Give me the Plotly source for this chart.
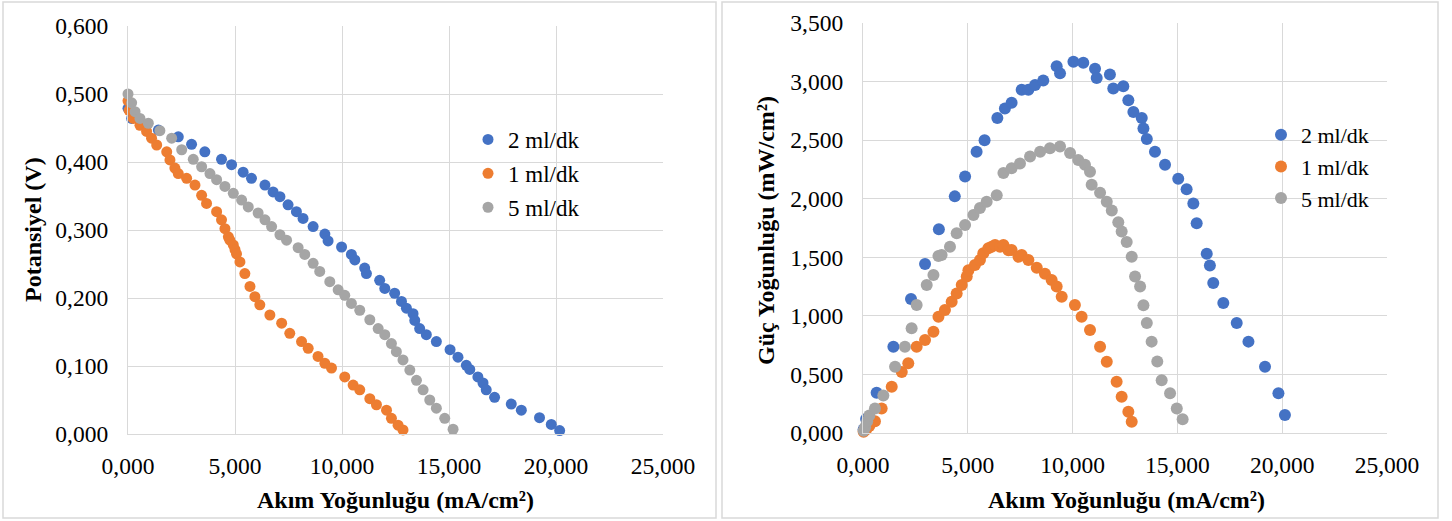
import plotly.graph_objects as go

# ---------------- data ----------------
series_names = ["2 ml/dk", "1 ml/dk", "5 ml/dk"]
colors = ["#4472C4", "#ED7D31", "#A5A5A5"]

# Left panel: current density (mA/cm2) vs potential (V)
left_i_2 = [0.00, 0.17, 0.70, 1.42, 2.35, 2.97, 3.59, 4.37, 4.84, 5.38, 5.77, 6.40, 6.78, 7.10, 7.48, 7.87,
            8.18, 8.65, 9.20, 9.35, 9.98, 10.44, 10.60, 11.06, 11.14, 11.76, 12.00, 12.46, 12.78, 13.01, 13.32,
            13.40, 13.63, 13.94, 14.41, 15.05, 15.42, 15.81, 15.97, 16.35, 16.59, 16.74, 17.13, 17.91, 18.38,
            19.23, 19.78, 20.17]
left_v_2 = [0.479, 0.464, 0.456, 0.447, 0.437, 0.426, 0.415, 0.404, 0.396, 0.385, 0.376, 0.366, 0.356, 0.349,
            0.337, 0.327, 0.317, 0.305, 0.294, 0.284, 0.275, 0.264, 0.256, 0.244, 0.236, 0.226, 0.214, 0.207,
            0.195, 0.185, 0.177, 0.167, 0.155, 0.146, 0.136, 0.124, 0.113, 0.101, 0.095, 0.084, 0.075, 0.065,
            0.054, 0.044, 0.035, 0.024, 0.014, 0.005]

left_i_1 = [0.00, 0.05, 0.25, 0.56, 0.87, 1.10, 1.34, 1.81, 1.96, 2.19, 2.35, 2.74, 3.13, 3.44, 3.67, 4.14,
            4.37, 4.53, 4.69, 4.76, 4.92, 5.00, 5.07, 5.23, 5.46, 5.70, 5.93, 6.16, 6.63, 7.18, 7.56, 8.11, 8.42,
            8.88, 9.20, 9.51, 10.13, 10.52, 10.83, 11.30, 11.61, 12.08, 12.31, 12.62, 12.85]
left_v_1 = [0.490, 0.476, 0.464, 0.454, 0.445, 0.435, 0.425, 0.415, 0.403, 0.391, 0.383, 0.376, 0.366, 0.351,
            0.339, 0.327, 0.315, 0.302, 0.290, 0.285, 0.278, 0.271, 0.265, 0.253, 0.236, 0.217, 0.202, 0.190,
            0.175, 0.163, 0.148, 0.136, 0.126, 0.114, 0.104, 0.097, 0.084, 0.072, 0.065, 0.052, 0.043, 0.035,
            0.023, 0.013, 0.006]

left_i_5 = [0.00, 0.17, 0.33, 0.56, 0.95, 1.49, 2.04, 2.51, 3.05, 3.44, 3.83, 4.14, 4.53, 4.92, 5.31, 5.62,
            6.08, 6.40, 6.71, 7.10, 7.41, 7.95, 8.26, 8.65, 8.96, 9.43, 9.82, 10.13, 10.44, 10.83, 11.30, 11.69,
            12.00, 12.31, 12.54, 12.85, 13.17, 13.48, 13.79, 14.10, 14.41, 14.80, 15.19]
left_v_5 = [0.500, 0.487, 0.474, 0.464, 0.457, 0.446, 0.435, 0.418, 0.404, 0.393, 0.383, 0.374, 0.364, 0.354,
            0.344, 0.334, 0.325, 0.315, 0.305, 0.293, 0.285, 0.274, 0.264, 0.251, 0.239, 0.224, 0.212, 0.204,
            0.192, 0.182, 0.168, 0.155, 0.146, 0.133, 0.121, 0.109, 0.094, 0.079, 0.065, 0.050, 0.038, 0.023,
            0.007]

# Right panel: current density (mA/cm2) vs power density (mW/cm2)
right_i_2 = [0.03, 0.15, 0.65, 1.45, 2.29, 2.96, 3.62, 4.38, 4.87, 5.42, 5.80, 6.41, 6.77, 7.09, 7.57, 7.89,
             8.21, 8.60, 9.24, 9.40, 10.04, 10.51, 11.07, 11.15, 11.78, 11.94, 12.42, 12.66, 12.90, 13.30, 13.38,
             13.54, 13.93, 14.41, 15.04, 15.44, 15.76, 15.92, 16.40, 16.55, 16.71, 17.19, 17.83, 18.39, 19.18,
             19.82, 20.13]
right_p_2 = [0.03, 0.12, 0.344, 0.737, 1.144, 1.443, 1.739, 2.02, 2.19, 2.40, 2.50, 2.69, 2.77, 2.82, 2.93,
             2.93, 2.97, 3.01, 3.13, 3.07, 3.17, 3.16, 3.11, 3.03, 3.06, 2.94, 2.96, 2.84, 2.74, 2.69, 2.60,
             2.51, 2.40, 2.29, 2.17, 2.08, 1.96, 1.79, 1.53, 1.43, 1.28, 1.11, 0.94, 0.78, 0.566, 0.339, 0.154]

right_i_1 = [0.03, 0.15, 0.30, 0.57, 0.89, 1.37, 1.85, 2.16, 2.56, 2.96, 3.36, 3.60, 3.91, 4.23, 4.47, 4.71,
             4.95, 5.03, 5.34, 5.58, 5.74, 5.98, 6.14, 6.30, 6.54, 6.70, 6.94, 7.09, 7.42, 7.57, 7.89, 8.29, 8.68,
             9.00, 9.24, 9.48, 10.11, 10.43, 10.83, 11.31, 11.63, 12.10, 12.34, 12.66, 12.82]
right_p_1 = [0.01, 0.03, 0.06, 0.10, 0.21, 0.395, 0.52, 0.595, 0.737, 0.794, 0.865, 0.993, 1.05, 1.12, 1.19,
             1.264, 1.335, 1.39, 1.435, 1.477, 1.534, 1.577, 1.59, 1.605, 1.59, 1.605, 1.56, 1.562, 1.505, 1.52,
             1.477, 1.41, 1.36, 1.306, 1.25, 1.164, 1.093, 0.993, 0.88, 0.737, 0.609, 0.438, 0.31, 0.182, 0.096]

right_i_5 = [0.03, 0.10, 0.20, 0.30, 0.57, 0.97, 1.53, 2.00, 2.32, 2.56, 3.04, 3.36, 3.60, 3.75, 4.15, 4.47,
             4.87, 5.27, 5.58, 5.90, 6.38, 6.70, 7.09, 7.49, 7.97, 8.45, 8.92, 9.40, 9.88, 10.27, 10.59, 10.83,
             10.91, 11.31, 11.63, 11.87, 12.18, 12.34, 12.58, 12.82, 12.98, 13.22, 13.38, 13.54, 13.77, 14.04,
             14.25, 14.65, 14.97, 15.25]
right_p_5 = [0.02, 0.05, 0.10, 0.15, 0.21, 0.32, 0.566, 0.737, 0.894, 1.093, 1.264, 1.349, 1.51, 1.52, 1.59,
             1.705, 1.776, 1.86, 1.92, 1.975, 2.03, 2.22, 2.26, 2.30, 2.36, 2.40, 2.43, 2.445, 2.39, 2.33, 2.29,
             2.23, 2.12, 2.05, 1.975, 1.90, 1.80, 1.72, 1.63, 1.505, 1.335, 1.25, 1.09, 0.94, 0.78, 0.61, 0.45,
             0.339, 0.21, 0.117]

x_title = "Akım Yoğunluğu (mA/cm²)"
left_y_title = "Potansiyel (V)"
right_y_title = "Güç Yoğunluğu (mW/cm²)"

# ---------------- figure ----------------
W, H = 1452, 521
FONT = "Liberation Serif"
TITLE_SIZE = 24

def px_x(p):
    return p / W

def px_y(p):
    return (H - p) / H

fig = go.Figure()

left_sets = [(left_i_2, left_v_2), (left_i_1, left_v_1), (left_i_5, left_v_5)]
right_sets = [(right_i_2, right_p_2), (right_i_1, right_p_1), (right_i_5, right_p_5)]

for k, (name, col, (xs, ys)) in enumerate(zip(series_names, colors, left_sets)):
    fig.add_trace(go.Scatter(x=xs, y=ys, mode="markers", name=name,
                             marker=dict(color=col, size=11, line=dict(width=0)),
                             xaxis="x", yaxis="y", legend="legend", legendgroup="L%d" % k,
                             cliponaxis=False))

for name, col, (xs, ys) in zip(series_names, colors, right_sets):
    fig.add_trace(go.Scatter(x=xs, y=ys, mode="markers", name=name,
                             marker=dict(color=col, size=12, line=dict(width=0)),
                             xaxis="x2", yaxis="y2", legend="legend2", cliponaxis=False))

axis_common = dict(showgrid=True, gridcolor="#D9D9D9", gridwidth=1.3, zeroline=False,
                   showline=True, linecolor="#D9D9D9", linewidth=1.3, ticks="",
                   tickformat=".3f", tickfont=dict(family=FONT, size=23.5, color="#000000"),
                   fixedrange=True, automargin=False)

fig.update_layout(
    template="none",
    width=W, height=H, autosize=False,
    margin=dict(l=0, r=0, t=0, b=0, pad=0),
    paper_bgcolor="white", plot_bgcolor="white",
    separators=",.",
    font=dict(family=FONT, color="#000000"),
    xaxis=dict(domain=[px_x(128), px_x(663)], range=[0, 25], dtick=5, anchor="y",
               ticklabelstandoff=11, **axis_common),
    yaxis=dict(domain=[px_y(434), px_y(26)], range=[0, 0.6], dtick=0.1, anchor="x",
               ticklabelstandoff=14, **axis_common),
    xaxis2=dict(domain=[px_x(863), px_x(1387)], range=[0, 25], dtick=5, anchor="y2",
                ticklabelstandoff=11, **axis_common),
    yaxis2=dict(domain=[px_y(433), px_y(23)], range=[0, 3.5], dtick=0.5, anchor="x2",
                ticklabelstandoff=14, **axis_common),
    legend=dict(x=px_x(468), y=px_y(118), xanchor="left", yanchor="top",
                font=dict(family=FONT, size=23, color="#000000"),
                bgcolor="rgba(0,0,0,0)", tracegroupgap=1, itemclick=False),
    legend2=dict(x=px_x(1261), y=px_y(114), xanchor="left", yanchor="top",
                 font=dict(family=FONT, size=22, color="#000000"),
                 bgcolor="rgba(0,0,0,0)", tracegroupgap=0, itemclick=False),
    shapes=[
        dict(type="rect", xref="paper", yref="paper", x0=px_x(3), x1=px_x(716), y0=px_y(518), y1=px_y(2),
             line=dict(color="#D9D9D9", width=1.5), fillcolor="rgba(0,0,0,0)"),
        dict(type="rect", xref="paper", yref="paper", x0=px_x(722), x1=px_x(1438), y0=px_y(518), y1=px_y(2),
             line=dict(color="#D9D9D9", width=1.5), fillcolor="rgba(0,0,0,0)"),
    ],
    annotations=[
        dict(text="<b>" + x_title + "</b>", xref="paper", yref="paper", x=px_x(396), y=px_y(500),
             xanchor="center", yanchor="middle", showarrow=False, font=dict(family=FONT, size=TITLE_SIZE)),
        dict(text="<b>" + x_title + "</b>", xref="paper", yref="paper", x=px_x(1126), y=px_y(500),
             xanchor="center", yanchor="middle", showarrow=False, font=dict(family=FONT, size=TITLE_SIZE)),
        dict(text="<b>" + left_y_title + "</b>", xref="paper", yref="paper", x=px_x(33), y=px_y(230),
             xanchor="center", yanchor="middle", textangle=-90, showarrow=False,
             font=dict(family=FONT, size=TITLE_SIZE)),
        dict(text="<b>" + right_y_title + "</b>", xref="paper", yref="paper", x=px_x(766), y=px_y(230),
             xanchor="center", yanchor="middle", textangle=-90, showarrow=False,
             font=dict(family=FONT, size=TITLE_SIZE)),
    ],
)

fig.write_html("out.html", config={"displayModeBar": False},
               post_script="document.body.style.margin='0';document.body.style.overflow='hidden';")
